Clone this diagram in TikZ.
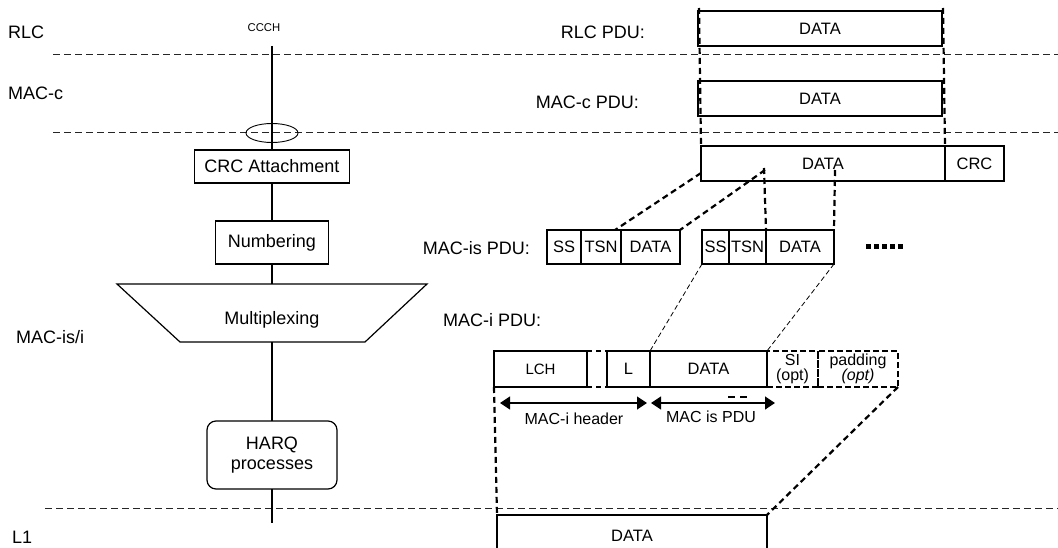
\documentclass[tikz,border=0pt]{standalone}
\usepackage{fontspec}
\setmainfont{Liberation Sans}
\usetikzlibrary{arrows.meta,shapes.geometric}
\begin{document}
\begin{tikzpicture}[x=1pt,y=-1pt,
  big/.style={font=\fontsize{18}{20}\selectfont, inner sep=0pt},
  box/.style={draw, line width=1.2pt, inner sep=0pt, outer sep=0pt, anchor=north west, font=\fontsize{16.5}{18}\selectfont},
  sbox/.style={box, font=\fontsize{16}{15}\selectfont, align=center},
  optbox/.style={sbox, dash pattern=on 6pt off 3pt, line width=2pt},
  fbox/.style={draw, line width=1.2pt, inner sep=0pt, outer sep=0pt, anchor=north, font=\fontsize{18}{20}\selectfont, align=center, fill=white},
  layer/.style={line width=1pt, dash pattern=on 7pt off 4pt, black!85},
  thick dash/.style={line width=2.2pt, dash pattern=on 6pt off 4pt},
  thin dash/.style={line width=0.8pt, dash pattern=on 5pt off 3pt},
  dim/.style={line width=1.3pt, {Triangle[length=10pt,width=13pt]}-{Triangle[length=10pt,width=13pt]}},
  chan/.style={line width=1.2pt}
]
\useasboundingbox (0,0) rectangle (1058,548);
% layer lines
\draw[layer] (53,55) -- (1058,55);
\draw[layer] (53,133) -- (1058,133);
\draw[layer] (45,508) -- (1058,508);
% layer labels
\node[big, anchor=west] (lrlc) at (8,32) {RLC};
\node[big, anchor=west] (lmacc) at (8,93) {MAC-c};
\node[big, anchor=west] (lmacis) at (16,337) {MAC-is/i};
\node[big, anchor=west] (ll1) at (12,537) {L1};
% left chain
\node[font=\fontsize{11.3}{12}\selectfont, inner sep=0pt] (ccch) at (264,28) {CCCH};
\coordinate (chtop) at (272,46);
\coordinate (chbot) at (272,523);
\node[fbox, minimum width=155pt, minimum height=33pt] (crc) at (272,150) {CRC Attachment};
\node[fbox, minimum width=113pt, minimum height=43pt] (num) at (272,221) {Numbering};
\draw[line width=1.2pt, fill=white] (117,284) -- (427,284) -- (365,342) -- (180,342) -- cycle;
\coordinate (muxtop) at (272,284);
\coordinate (muxbot) at (272,342);
\node[big] (mux) at (272,320) {Multiplexing};
\node[fbox, rounded corners=9pt, minimum width=130pt, minimum height=68pt] (harq) at (272,421) {HARQ\\processes};
\draw[chan] (chtop) -- (crc.north);
\draw[chan] (crc.south) -- (num.north);
\draw[chan] (num.south) -- (muxtop);
\draw[chan] (muxbot) -- (harq.north);
\draw[chan] (harq.south) -- (chbot);
\node[draw, line width=0.9pt, ellipse, minimum width=52pt, minimum height=19pt, inner sep=0pt] (ell) at (272,133) {};
% right labels
\node[big, anchor=east] (trlc) at (645,32) {RLC PDU:};
\node[big, anchor=east] (tmacc) at (639,102) {MAC-c PDU:};
\node[big, anchor=east] (tmacis) at (530,248) {MAC-is PDU:};
\node[big, anchor=west] (tmaci) at (443,320) {MAC-i PDU:};
% PDUs
\node[box, minimum width=244pt, minimum height=35pt] (rlcd) at (698,11) {DATA};
\node[box, minimum width=244pt, minimum height=35pt] (maccd) at (698,81) {DATA};
\node[box, minimum width=244pt, minimum height=35pt] (d3) at (701,146) {DATA};
\node[box, minimum width=59pt, minimum height=35pt] (crcf) at (945,146) {CRC};
% MAC-is PDUs
\node[box, minimum width=34pt, minimum height=34pt] (a1) at (547,230) {SS};
\node[box, minimum width=40pt, minimum height=34pt] (a2) at (581,230) {TSN};
\node[box, minimum width=59pt, minimum height=34pt] (a3) at (621,230) {DATA};
\node[box, minimum width=27pt, minimum height=34pt] (b1) at (702,230) {SS};
\node[box, minimum width=37pt, minimum height=34pt] (b2) at (729,230) {TSN};
\node[box, minimum width=68pt, minimum height=34pt] (b3) at (766,230) {DATA};
\draw[line width=5pt, dash pattern=on 5pt off 3pt] (866,247) -- (904,247);
% MAC-i PDU
\node[box, font=\fontsize{15}{16}\selectfont, minimum width=93pt, minimum height=36pt] (lch) at (494,351) {LCH};
\node[box, minimum width=43pt, minimum height=36pt] (lfield) at (607,351) {L};
\node[box, minimum width=117pt, minimum height=36pt] (mid) at (650,351) {DATA};
\node[optbox, minimum width=51pt, minimum height=36pt] (si) at (767,351) {SI\\(opt)};
\node[optbox, minimum width=80pt, minimum height=36pt] (pad) at (818,351) {padding\\\textit{(opt)}};
\draw[line width=1.4pt, dash pattern=on 5pt off 4pt] (lch.north east) -- (lfield.north west);
\draw[line width=1.4pt, dash pattern=on 5pt off 4pt] (lch.south east) -- (lfield.south west);
\draw[line width=1.6pt, dash pattern=on 6pt off 4pt] (708,351) -- (725,351);
% dimension arrows
\coordinate (h1) at (500,403);
\coordinate (h2) at (647,403);
\coordinate (p1) at (651,403);
\coordinate (p2) at (775,403);
\draw[dim] (h1) -- (h2);
\draw[dim] (p1) -- (p2);
\draw[line width=1.5pt, dash pattern=on 7pt off 5pt] (728,397) -- (748,397);
\node[font=\fontsize{16}{18}\selectfont, inner sep=0pt] (hlab) at (574,419) {MAC-i header};
\node[font=\fontsize{16}{18}\selectfont, inner sep=0pt] (plab) at (711,417) {MAC is PDU};
% L1 DATA
\coordinate (l1a) at (497,550);
\coordinate (l1b) at (497,515);
\coordinate (l1c) at (767,515);
\coordinate (l1d) at (767,550);
\draw[line width=1.2pt] (l1a) -- (l1b) -- (l1c) -- (l1d);
\node[font=\fontsize{16.5}{18}\selectfont, inner sep=0pt] (l1data) at (632,536) {DATA};
% mapping lines
\coordinate (v1t) at (699,8);
\coordinate (v2t) at (943,8);
\draw[thick dash] (v1t) -- (d3.north west);
\draw[thick dash] (v2t) -- (d3.north east);
\coordinate (d3l) at (701,173);
\coordinate (d3m) at (765,170);
\coordinate (d3r) at (835,170);
\coordinate (v3t) at (764,168);
\coordinate (a2m) at (615,230);
\draw[thick dash] (d3l) -- (a2m);
\draw[thick dash] (d3m) -- (a3.north east);
\draw[thick dash] (v3t) -- (b3.north west);
\draw[thick dash] (d3r) -- (b3.north east);
\draw[thin dash] (b1.south west) -- (mid.north west);
\draw[thin dash] (b3.south east) -- (mid.north east);
\draw[thick dash] (lch.south west) -- (l1b);
\draw[thick dash] (pad.south east) -- (l1c);
\end{tikzpicture}
\end{document}
